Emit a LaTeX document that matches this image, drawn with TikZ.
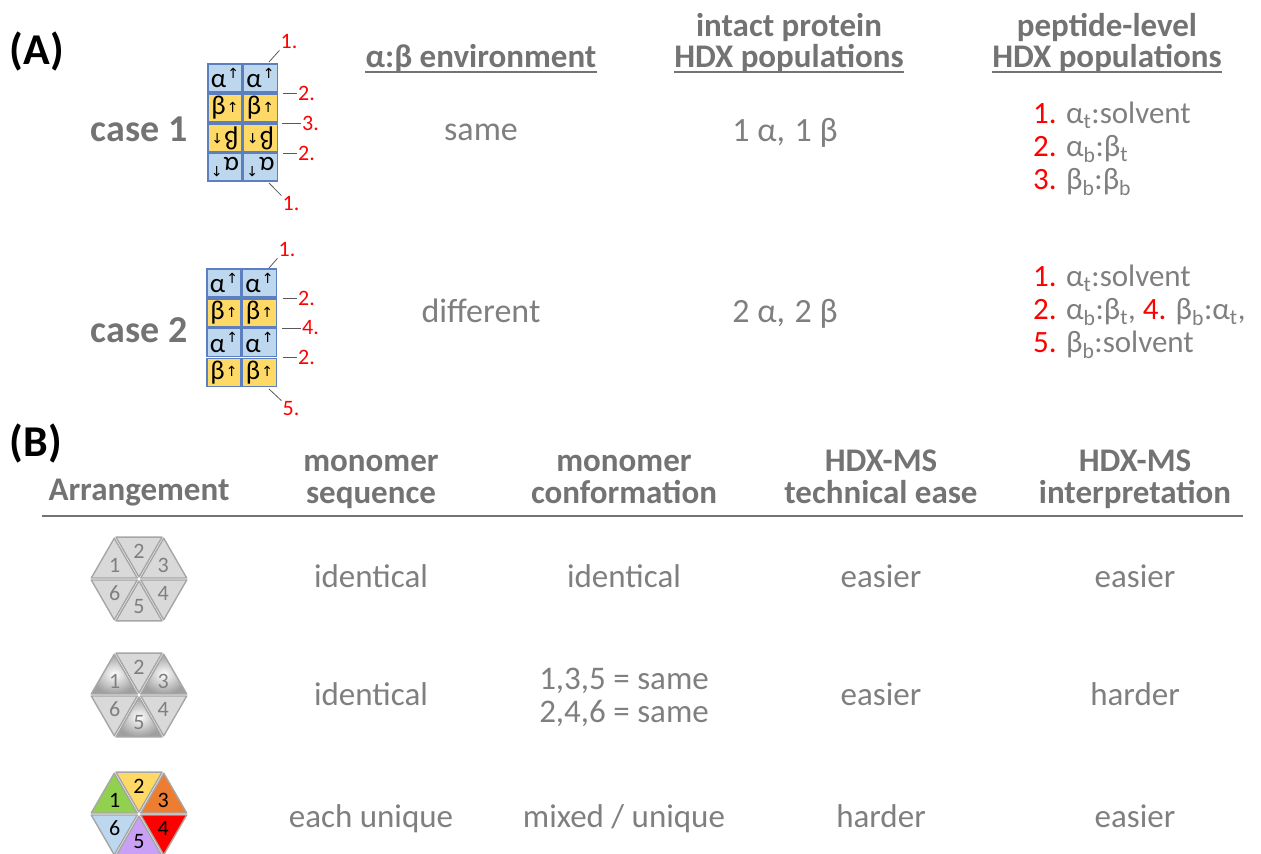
\documentclass[tikz,border=0pt]{standalone}
\usepackage{fontspec}
\setmainfont{Carlito}
\newfontfamily\arrf{DejaVu Sans}
\usetikzlibrary{calc}
\definecolor{txt}{HTML}{7F7F7F}
\definecolor{hdr}{HTML}{737373}
\definecolor{cellblue}{HTML}{BDD7EE}
\definecolor{cellyel}{HTML}{FFD966}
\definecolor{celledge}{HTML}{5B7FBF}
\definecolor{leadc}{HTML}{595959}
\definecolor{hexfill}{HTML}{D9D9D9}
\definecolor{hexedge}{HTML}{A6A6A6}
\definecolor{hgreen}{HTML}{92D050}
\definecolor{hyellow}{HTML}{FFD966}
\definecolor{horange}{HTML}{ED7D31}
\definecolor{hred}{HTML}{FF0000}
\definecolor{hlilac}{HTML}{C9A0F5}
\definecolor{hblue}{HTML}{BDD7EE}
\newcommand\setfs[1]{\fontsize{#1}{#1}\selectfont}
\newcommand\rd[1]{\textcolor{red}{#1}}
\newcommand\lo[1]{\textsubscript{#1}}
\newcommand\acontent{α\kern1pt\raisebox{0.36em}{\arrf\setfs{14}↑}}
\newcommand\bcontent{β\kern1pt\raisebox{0.1em}{\arrf\setfs{14}↑}}
\begin{document}
\begin{tikzpicture}[x=1pt,y=-1pt,
  hdr/.style={font=\bfseries\setfs{33}, text=hdr, inner sep=0pt},
  body/.style={font=\setfs{33}, text=txt, inner sep=0pt},
  mid/.style={font=\setfs{34}, text=txt, inner sep=0pt},
  list/.style={font=\setfs{31}, text=txt, inner sep=0pt},
  casel/.style={font=\bfseries\setfs{38}, text=hdr, inner sep=0pt},
  panel/.style={font=\bfseries\setfs{44}, text=black, inner sep=0pt},
  cellB/.style={draw=celledge, fill=cellblue, line width=1.2pt, minimum width=34pt, minimum height=28pt, inner sep=0pt, font=\setfs{27}},
  cellY/.style={cellB, fill=cellyel},
  lab/.style={text=red, font=\setfs{22}, inner sep=1pt},
  leader/.style={draw=leadc, line width=0.8pt},
  uline/.style={draw=hdr, line width=1.8pt},
  tri/.style={draw=hexedge, line width=1.4pt, line join=round},
  hexnum/.style={font=\setfs{22}, inner sep=0pt},
  rule/.style={draw=hdr, line width=2.2pt}
]
\path[use as bounding box] (0,0) rectangle (1261,854);

% ---------- Panel A ----------
\node[panel, anchor=base] (pA) at (37,64) {(A)};
\node[hdr, anchor=base] (envh) at (481,67) {α:β environment};
\draw[uline] ([yshift=-5pt]envh.base west) -- ([yshift=-5pt]envh.base east);
\node[hdr, anchor=base] (ip1) at (789,36) {intact protein};
\node[hdr, anchor=base] (ip2) at (789,67) {HDX populations};
\draw[uline] ([yshift=-5pt]ip2.base west) -- ([yshift=-5pt]ip2.base east);
\node[hdr, anchor=base] (pl1) at (1107,36) {peptide-level};
\node[hdr, anchor=base] (pl2) at (1107,67) {HDX populations};
\draw[uline] ([yshift=-5pt]pl2.base west) -- ([yshift=-5pt]pl2.base east);

% case 1
\node[casel, anchor=base] (case1) at (139,141) {case 1};
\node[cellB] (a1) at (225,78) {\acontent};
\node[cellB] (a2) at (260.5,78) {\acontent};
\node[cellY] (a3) at (225,108) {\bcontent};
\node[cellY] (a4) at (260.5,108) {\bcontent};
\node[cellY, rotate=180] (a5) at (225,138) {\bcontent};
\node[cellY, rotate=180] (a6) at (260.5,138) {\bcontent};
\node[cellB, rotate=180] (a7) at (225,167) {\acontent};
\node[cellB, rotate=180] (a8) at (260.5,167) {\acontent};

\node[lab] (la1) at (289,42) {1.};
\coordinate (ka1) at (269,62);
\draw[leader] (ka1) -- (la1.south west);
\node[lab, anchor=west] (la2) at (297,93) {2.};
\coordinate (ka2) at (283,93);
\draw[leader] (ka2) -- (la2.west);
\node[lab, anchor=west] (la3) at (301,123) {3.};
\coordinate (ka3) at (282,123);
\draw[leader] (ka3) -- (la3.west);
\node[lab, anchor=west] (la4) at (297,153) {2.};
\coordinate (ka4) at (283,153);
\draw[leader] (ka4) -- (la4.west);
\node[lab] (la5) at (291,204) {1.};
\coordinate (ka5) at (269,183);
\draw[leader] (ka5) -- (la5.north west);

\node[mid, anchor=base] (same) at (481,140) {same};
\node[mid, anchor=base] (n1) at (785,141) {1 α,\kern2pt{} 1 β};
\node[list, anchor=base west] (p11) at (1033,123) {\rd{1.} α\lo{t}:solvent};
\node[list, anchor=base west] (p12) at (1033,156) {\rd{2.} α\lo{b}:β\lo{t}};
\node[list, anchor=base west] (p13) at (1033,189) {\rd{3.} β\lo{b}:β\lo{b}};

% case 2
\node[casel, anchor=base] (case2) at (139,342) {case 2};
\node[cellB] (b1) at (224,283) {\acontent};
\node[cellB] (b2) at (259.5,283) {\acontent};
\node[cellY] (b3) at (224,313) {\bcontent};
\node[cellY] (b4) at (259.5,313) {\bcontent};
\node[cellB] (b5) at (224,342.5) {\acontent};
\node[cellB] (b6) at (259.5,342.5) {\acontent};
\node[cellY] (b7) at (224,372.5) {\bcontent};
\node[cellY] (b8) at (259.5,372.5) {\bcontent};

\node[lab] (lb1) at (287,250) {1.};
\coordinate (kb1) at (269,268);
\draw[leader] (kb1) -- (lb1.south west);
\node[lab, anchor=west] (lb2) at (297,298) {2.};
\coordinate (kb2) at (283,298);
\draw[leader] (kb2) -- (lb2.west);
\node[lab, anchor=west] (lb3) at (301,328) {4.};
\coordinate (kb3) at (282,328);
\draw[leader] (kb3) -- (lb3.west);
\node[lab, anchor=west] (lb4) at (297,357) {2.};
\coordinate (kb4) at (283,357);
\draw[leader] (kb4) -- (lb4.west);
\node[lab] (lb5) at (291,409) {5.};
\coordinate (kb5) at (269,389);
\draw[leader] (kb5) -- (lb5.north west);

\node[mid, anchor=base] (diff) at (481,322) {different};
\node[mid, anchor=base] (n2) at (785,322) {2 α,\kern2pt{} 2 β};
\node[list, anchor=base west] (p21) at (1033,286) {\rd{1.} α\lo{t}:solvent};
\node[list, anchor=base west] (p22) at (1033,319) {\rd{2.} α\lo{b}:β\lo{t}, \rd{4.} β\lo{b}:α\lo{t},};
\node[list, anchor=base west] (p23) at (1033,352) {\rd{5.} β\lo{b}:solvent};

% ---------- Panel B ----------
\node[panel, anchor=base] (pB) at (36,456) {(B)};
\node[hdr, anchor=base] (harr) at (139,500) {Arrangement};
\node[hdr, anchor=base] (hs1) at (371,471) {monomer};
\node[hdr, anchor=base] (hs2) at (371,503) {sequence};
\node[hdr, anchor=base] (hc1) at (624,471) {monomer};
\node[hdr, anchor=base] (hc2) at (624,503) {conformation};
\node[hdr, anchor=base] (ht1) at (881,471) {HDX-MS};
\node[hdr, anchor=base] (ht2) at (881,503) {technical ease};
\node[hdr, anchor=base] (hi1) at (1135,471) {HDX-MS};
\node[hdr, anchor=base] (hi2) at (1135,503) {interpretation};
\coordinate (rl) at (42,516);
\coordinate (rr) at (1243,516);
\draw[rule] (rl) -- (rr);

% hexagon 1
\begin{scope}[shift={(139,579)}]
\foreach \a/\n in {180/1,240/2,300/3,0/4,60/5,120/6}{
  \draw[tri, fill=hexfill] (\a+30:2) -- ++(\a:46) -- ++(\a+120:46) -- cycle;
  \node[hexnum, text=txt] (hx1-\n) at (\a+30:28) {\n};
}
\end{scope}
% hexagon 2
\begin{scope}[shift={(139,695)}]
\foreach \a/\n in {240/2,0/4,120/6}{
  \draw[tri, fill=hexfill] (\a+30:2) -- ++(\a:46) -- ++(\a+120:46) -- cycle;
}
\foreach \a/\n in {180/1,300/3,60/5}{
  \shadedraw[tri, inner color=white, outer color=gray!75] (\a+30:2) -- ++(\a:46) -- ++(\a+120:46) -- cycle;
}
\foreach \a/\n in {180/1,240/2,300/3,0/4,60/5,120/6}{
  \node[hexnum, text=txt] (hx2-\n) at (\a+30:28) {\n};
}
\end{scope}
% hexagon 3
\begin{scope}[shift={(139,814)}]
\foreach \a/\n/\f in {180/1/hgreen,240/2/hyellow,300/3/horange,0/4/hred,60/5/hlilac,120/6/hblue}{
  \draw[tri, fill=\f] (\a+30:2) -- ++(\a:46) -- ++(\a+120:46) -- cycle;
  \node[hexnum, text=black] (hx3-\n) at (\a+30:28) {\n};
}
\end{scope}

% rows
\node[body, anchor=base] (r1a) at (371,587) {identical};
\node[body, anchor=base] (r1b) at (624,587) {identical};
\node[body, anchor=base] (r1c) at (881,587) {easier};
\node[body, anchor=base] (r1d) at (1135,587) {easier};

\node[body, anchor=base] (r2a) at (371,705) {identical};
\node[body, anchor=base] (r2b) at (624,689) {1,3,5 = same};
\node[body, anchor=base] (r2c) at (624,722) {2,4,6 = same};
\node[body, anchor=base] (r2d) at (881,705) {easier};
\node[body, anchor=base] (r2e) at (1135,705) {harder};

\node[body, anchor=base] (r3a) at (371,827) {each unique};
\node[body, anchor=base] (r3b) at (624,827) {mixed / unique};
\node[body, anchor=base] (r3c) at (881,827) {harder};
\node[body, anchor=base] (r3d) at (1135,827) {easier};
\end{tikzpicture}
\end{document}
